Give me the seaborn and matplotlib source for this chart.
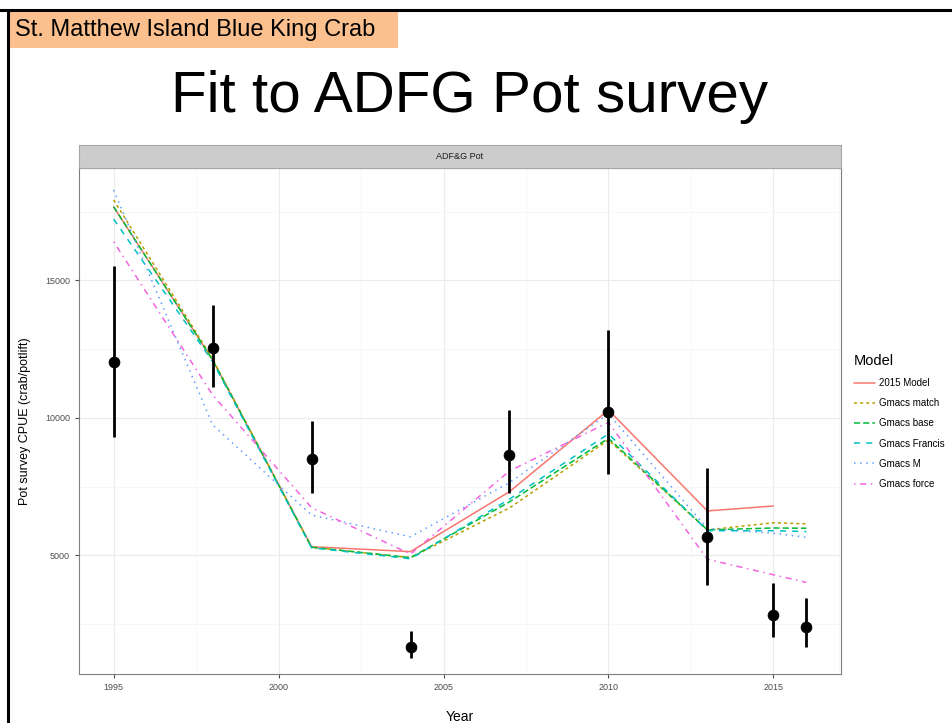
import numpy as np
import pandas as pd
import seaborn as sns
import matplotlib
matplotlib.use("Agg")
import matplotlib.pyplot as plt
from matplotlib.patches import Rectangle
from matplotlib.lines import Line2D

# observed survey index with error bars
obs_years = [1995, 1998, 2001, 2004, 2007, 2010, 2013, 2015, 2016]
obs_cpue = [12040, 12530, 8500, 1690, 8650, 10200, 5660, 2840, 2410]
obs_lower = [9310, 11140, 7260, 1290, 7260, 7950, 3930, 2030, 1680]
obs_upper = [15520, 14110, 9900, 2250, 10290, 13200, 8170, 4010, 3440]

# model fits
model_years = [1995, 1998, 2001, 2004, 2007, 2010, 2013, 2015, 2016]
model_2015 = [17680, 12110, 5320, 5140, 7320, 10290, 6620, 6800]
gmacs_match = [17930, 12150, 5300, 4920, 6730, 9200, 5930, 6190, 6150]
gmacs_base = [17680, 12110, 5300, 4920, 6950, 9260, 5930, 6000, 5990]
gmacs_francis = [17230, 12050, 5280, 4880, 7050, 9420, 5900, 5900, 5870]
gmacs_m = [18290, 9750, 6470, 5680, 7650, 10150, 5980, 5810, 5660]
gmacs_force = [16410, 10840, 6740, 5050, 8070, 9840, 4860, 4300, 4020]

model_names = ["2015 Model", "Gmacs match", "Gmacs base", "Gmacs Francis", "Gmacs M", "Gmacs force"]
model_vals = [model_2015, gmacs_match, gmacs_base, gmacs_francis, gmacs_m, gmacs_force]

rows = []
for name, vals in zip(model_names, model_vals):
    for yr, v in zip(model_years, vals):
        rows.append({"Year": yr, "CPUE": v, "Model": name})
fits = pd.DataFrame(rows)

obs = pd.DataFrame({"Year": obs_years, "CPUE": obs_cpue, "lo": obs_lower, "hi": obs_upper})

palette = dict(zip(model_names, ["#F8766D", "#B79F00", "#00BA38", "#00BFC4", "#619CFF", "#F564E3"]))
dashes = dict(zip(model_names, ["", (2, 2), (4, 2), (4, 4), (1, 3), (1, 3, 4, 3)]))

sns.set_style("white")
plt.rcParams["font.family"] = ["Liberation Sans", "DejaVu Sans"]
plt.rcParams["text.color"] = "black"

fig = plt.figure(figsize=(9.53, 7.23), dpi=100)

# slide decorations
fig.add_artist(Line2D([0, 1], [1 - 10 / 723, 1 - 10 / 723], color="black", lw=2.2))
fig.add_artist(Line2D([8 / 953, 8 / 953], [0, 1 - 10 / 723], color="black", lw=2.2))
fig.add_artist(Rectangle((9 / 953, 1 - 48 / 723), 389 / 953, 37 / 723,
                         facecolor="#FBC08E", edgecolor="none", transform=fig.transFigure))
fig.text(15 / 953, 1 - 30 / 723, "St. Matthew Island Blue King Crab", fontsize=17,
         va="center", ha="left", color="black")
fig.text(470 / 953, 1 - 97 / 723, "Fit to ADFG Pot survey", fontsize=42,
         va="center", ha="center", color="black")

ax = fig.add_axes([79 / 953, 49 / 723, 762 / 953, 506 / 723])

ax.set_xlim(1993.95, 2017.05)
ax.set_ylim(690, 19090)
ax.set_xticks([1995, 2000, 2005, 2010, 2015])
ax.set_xticks([1997.5, 2002.5, 2007.5, 2012.5, 2017], minor=True)
ax.set_yticks([5000, 10000, 15000])
ax.set_yticks([2500, 7500, 12500, 17500], minor=True)
ax.grid(True, which="major", color="#EBEBEB", lw=0.8)
ax.grid(True, which="minor", color="#F5F5F5", lw=0.6)
ax.set_axisbelow(True)

sns.lineplot(data=fits, x="Year", y="CPUE", hue="Model", style="Model",
             palette=palette, dashes=dashes, hue_order=model_names,
             style_order=model_names, lw=1.1, ax=ax, legend=False)

ax.vlines(obs["Year"], obs["lo"], obs["hi"], color="black", lw=2)
sns.scatterplot(data=obs, x="Year", y="CPUE", color="black", s=60,
                edgecolor="black", ax=ax, zorder=5)

for s in ax.spines.values():
    s.set_color("#7F7F7F")
    s.set_linewidth(0.8)
ax.tick_params(axis="both", which="major", labelsize=6.5, labelcolor="#4D4D4D",
               length=3, color="#4D4D4D", direction="out", left=True, bottom=True)
ax.tick_params(which="minor", length=0)
ax.set_xlabel("Year", fontsize=10, labelpad=13, color="black")
ax.set_ylabel("Pot survey CPUE (crab/potlift)", fontsize=9, labelpad=10, color="black")

# facet strip
sax = fig.add_axes([79 / 953, 555 / 723, 762 / 953, 23 / 723])
sax.set_facecolor("#CCCCCC")
sax.set_xticks([])
sax.set_yticks([])
for s in sax.spines.values():
    s.set_color("#A6A6A6")
    s.set_linewidth(0.8)
sax.text(0.5, 0.5, "ADF&G Pot", fontsize=6.5, color="#1A1A1A",
         ha="center", va="center", transform=sax.transAxes)

# legend
handles = [Line2D([0], [0], color=palette[n], lw=1.1,
                  dashes=dashes[n] if dashes[n] else (None, None)) for n in model_names]
leg = fig.legend(handles, model_names, title="Model", loc="upper left",
                 bbox_to_anchor=(845 / 953, 1 - 345 / 723), frameon=False,
                 fontsize=7, title_fontsize=10.5, handlelength=2.2,
                 labelspacing=1.05, handletextpad=0.4, alignment="left")

fig.savefig("out.png", dpi=100)
